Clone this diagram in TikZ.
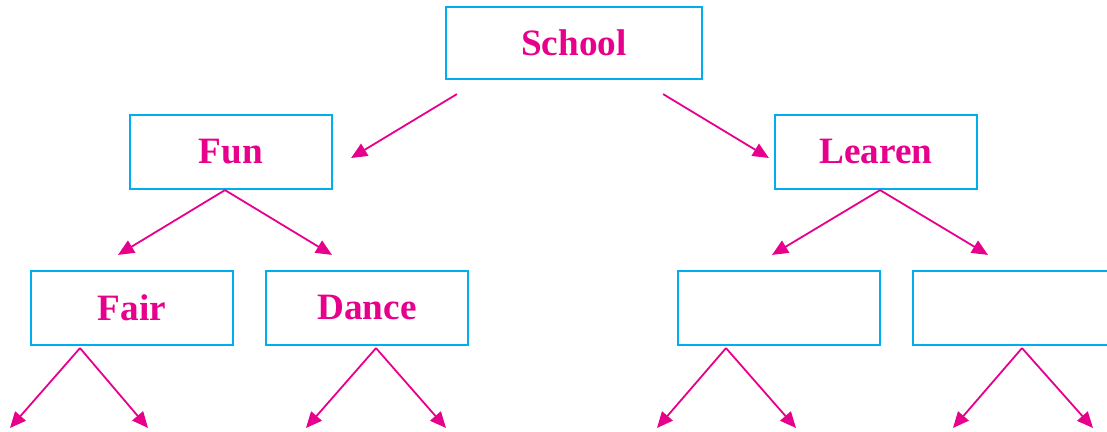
\documentclass[tikz,border=0pt]{standalone}
\usepackage{fontspec}
\setmainfont{Liberation Serif}
\usetikzlibrary{arrows.meta,calc}
\definecolor{boxcyan}{RGB}{0,174,239}
\definecolor{txtpink}{RGB}{230,0,140}
\tikzset{
  box/.style={draw=boxcyan, line width=1.1pt, minimum width=101pt, minimum height=37pt,
    inner sep=0pt, text=txtpink, font=\fontsize{18.6}{22}\selectfont\bfseries},
  arr/.style={draw=txtpink, line width=0.9pt, -{Triangle[length=8pt,width=7pt]}}
}
\begin{document}
\begin{tikzpicture}[x=0.5pt, y=-0.5pt]
  \clip (0,0) rectangle (1107,432);
  % --- boxes ---
  \node[box, minimum width=128pt, minimum height=36pt] (school) at (574,43) {School};
  \node[box] (fun) at (231,152) {Fun};
  \node[box] (learn) at (876,152) {Learen};
  \node[box] (fair) at (132,308) {Fair};
  \node[box] (dance) at (367,308) {Dance};
  \node[box] (blankA) at (779,308) {};
  \node[box] (blankB) at (1014,308) {};

  % --- free ends of the lowest arrows ---
  \coordinate (fairL) at (10,428);
  \coordinate (fairR) at (148,428);
  \coordinate (danceL) at (306,428);
  \coordinate (danceR) at (446,428);
  \coordinate (blankAL) at (657,428);
  \coordinate (blankAR) at (796,428);
  \coordinate (blankBL) at (953,428);
  \coordinate (blankBR) at (1093,428);

  % --- arrows ---
  \draw[arr] ($(school.south west)+(12,14)$) -- ($(fun.east)+(18,6)$);
  \draw[arr] ($(school.south east)+(-40,14)$) -- ($(learn.west)+(-5,6)$);
  \draw[arr] ($(fun.south)+(-6,0)$) -- ($(fair.north)+(-14,-15)$);
  \draw[arr] ($(fun.south)+(-6,0)$) -- ($(dance.north)+(-35,-15)$);
  \draw[arr] ($(learn.south)+(4,0)$) -- ($(blankA.north)+(-7,-15)$);
  \draw[arr] ($(learn.south)+(4,0)$) -- ($(blankB.north)+(-26,-15)$);
  \draw[arr] ($(fair.south)+(-52,2)$) -- (fairL);
  \draw[arr] ($(fair.south)+(-52,2)$) -- (fairR);
  \draw[arr] ($(dance.south)+(9,2)$) -- (danceL);
  \draw[arr] ($(dance.south)+(9,2)$) -- (danceR);
  \draw[arr] ($(blankA.south)+(-53,2)$) -- (blankAL);
  \draw[arr] ($(blankA.south)+(-53,2)$) -- (blankAR);
  \draw[arr] ($(blankB.south)+(8,2)$) -- (blankBL);
  \draw[arr] ($(blankB.south)+(8,2)$) -- (blankBR);
\end{tikzpicture}
\end{document}
